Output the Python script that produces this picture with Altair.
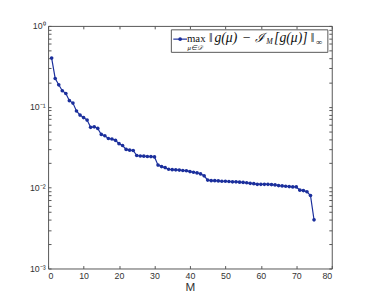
import altair as alt
import pandas as pd

# ---- data ----
M = list(range(1, 76))
err = [0.40, 0.224, 0.187, 0.158, 0.146, 0.119, 0.111, 0.0887, 0.079, 0.0736,
       0.0685, 0.0557, 0.0565, 0.054, 0.0455, 0.0438, 0.0405, 0.0400, 0.0385, 0.035,
       0.0332, 0.0297, 0.0291, 0.0288, 0.0250, 0.0246, 0.0245, 0.0243, 0.0242, 0.0240,
       0.0190, 0.0182, 0.0177, 0.0169, 0.0167, 0.0166, 0.0165, 0.0163, 0.0162, 0.0158,
       0.0155, 0.0152, 0.0148, 0.0140, 0.0124, 0.0122, 0.0122, 0.0121, 0.0120, 0.0120,
       0.0119, 0.0118, 0.0118, 0.0117, 0.0116, 0.0115, 0.0113, 0.0112, 0.0110, 0.0110,
       0.0110, 0.0110, 0.0109, 0.0108, 0.0106, 0.0105, 0.0104, 0.0103, 0.0102, 0.0102,
       0.0093, 0.0092, 0.0089, 0.0080, 0.0040]

x_ticks = [0, 10, 20, 30, 40, 50, 60, 70, 80]
y_major = [1e-3, 1e-2, 1e-1, 1e0]
y_major_labels = ["10⁻³", "10⁻²", "10⁻¹", "10⁰"]
y_minor = [m * d for d in [1e-3, 1e-2, 1e-1] for m in range(2, 10)]
x_title = "M"

df = pd.DataFrame({"M": M, "err": err})

LINE = "#1b2f9c"
AXC = "#555555"
LABC = "#333333"
FONT = "Liberation Sans"
MATH = "Liberation Serif"

# label expression for log axis: only decades get a label
expr = "''"
for v, lab in zip(y_major, y_major_labels):
    expr = f"abs(datum.value - {v}) < {v}*1e-6 ? '{lab}' : " + expr
y_all = sorted(y_major + y_minor)

xs = alt.Scale(domain=[0, 80], nice=False, zero=False)
ys = alt.Scale(type="log", domain=[1e-3, 1], nice=False)

base = alt.Chart(df)

line = base.mark_line(color=LINE, strokeWidth=1.2).encode(
    x=alt.X("M:Q", scale=xs, axis=alt.Axis(
        orient="bottom", values=x_ticks, tickSize=3, offset=-3, domain=False,
        grid=False, labelPadding=3, labelFontSize=9, labelColor=LABC, labelFont=FONT,
        tickColor=AXC, title=x_title, titleFontSize=12, titleFontWeight="normal",
        titleColor=LABC, titleFont=FONT, titlePadding=2)),
    y=alt.Y("err:Q", scale=ys, axis=alt.Axis(
        orient="left", values=y_all, labelExpr=expr, tickSize=3, offset=-3,
        domain=False, grid=False, labelPadding=3, labelFontSize=9, labelColor=LABC,
        labelFont=FONT, tickColor=AXC, title=None)),
)

pts = base.mark_point(filled=True, color=LINE, size=14, opacity=1).encode(
    x=alt.X("M:Q", scale=xs, axis=None), y=alt.Y("err:Q", scale=ys, axis=None))

mirror = base.mark_point(opacity=0).encode(
    x=alt.X("M:Q", scale=xs, axis=alt.Axis(
        orient="top", values=x_ticks, tickSize=3, offset=-3, domain=False,
        grid=False, labels=False, labelExpr="''", tickColor=AXC, title=None)),
    y=alt.Y("err:Q", scale=ys, axis=alt.Axis(
        orient="right", values=y_all, tickSize=3, offset=-3, domain=False,
        grid=False, labels=False, labelExpr="''", tickColor=AXC, title=None)),
)

# ---- legend (drawn by hand, MATLAB style) ----
one = pd.DataFrame({"k": [0]})
lx0, lx1, ly0, ly1 = 126, 286, 4, 27
box = alt.Chart(one).mark_rect(fill="white", stroke=AXC, strokeWidth=1).encode(
    x=alt.value(lx0), x2=alt.value(lx1), y=alt.value(ly0), y2=alt.value(ly1))
samp = alt.Chart(one).mark_rule(color=LINE, strokeWidth=1.2).encode(
    x=alt.value(lx0 + 2), x2=alt.value(lx0 + 16), y=alt.value(13.5))
sampt = alt.Chart(one).mark_point(filled=True, color=LINE, size=14, opacity=1).encode(
    x=alt.value(lx0 + 9), y=alt.value(13.5))


def txt(s, x, y, size=12, style="normal", align="left"):
    return alt.Chart(pd.DataFrame({"t": [s]})).mark_text(
        font=MATH, fontSize=size, fontStyle=style, align=align, baseline="alphabetic",
        color="#111111").encode(text="t:N", x=alt.value(x), y=alt.value(y))


leg = [
    box, samp, sampt,
    txt("max", 142, 16, 11),
    txt("μ∈𝒟", 150, 24.5, 7, "italic", "center"),
    txt("‖", 164.5, 16.5, 13),
    txt("g(μ)", 170, 16.5, 14, "italic"),
    txt("−", 199, 16.5, 14),
    txt("ℐ", 212, 16.5, 13, "italic"),
    txt("M", 223, 18.5, 8, "italic"),
    txt("[g(μ)]", 231, 16.5, 14, "italic"),
    txt("‖", 268.5, 16.5, 13),
    txt("∞", 274, 19, 9),
]

chart = alt.layer(line, pts, mirror, *leg).resolve_axis(
    x="independent", y="independent"
).properties(
    width=290, height=248,
    autosize=alt.AutoSizeParams(type="none"),
    padding={"left": 41, "top": 15, "right": 35, "bottom": 35},
).configure_view(stroke=AXC, strokeWidth=1)

chart.save("out.html", embed_options={"renderer": "svg", "actions": False})
